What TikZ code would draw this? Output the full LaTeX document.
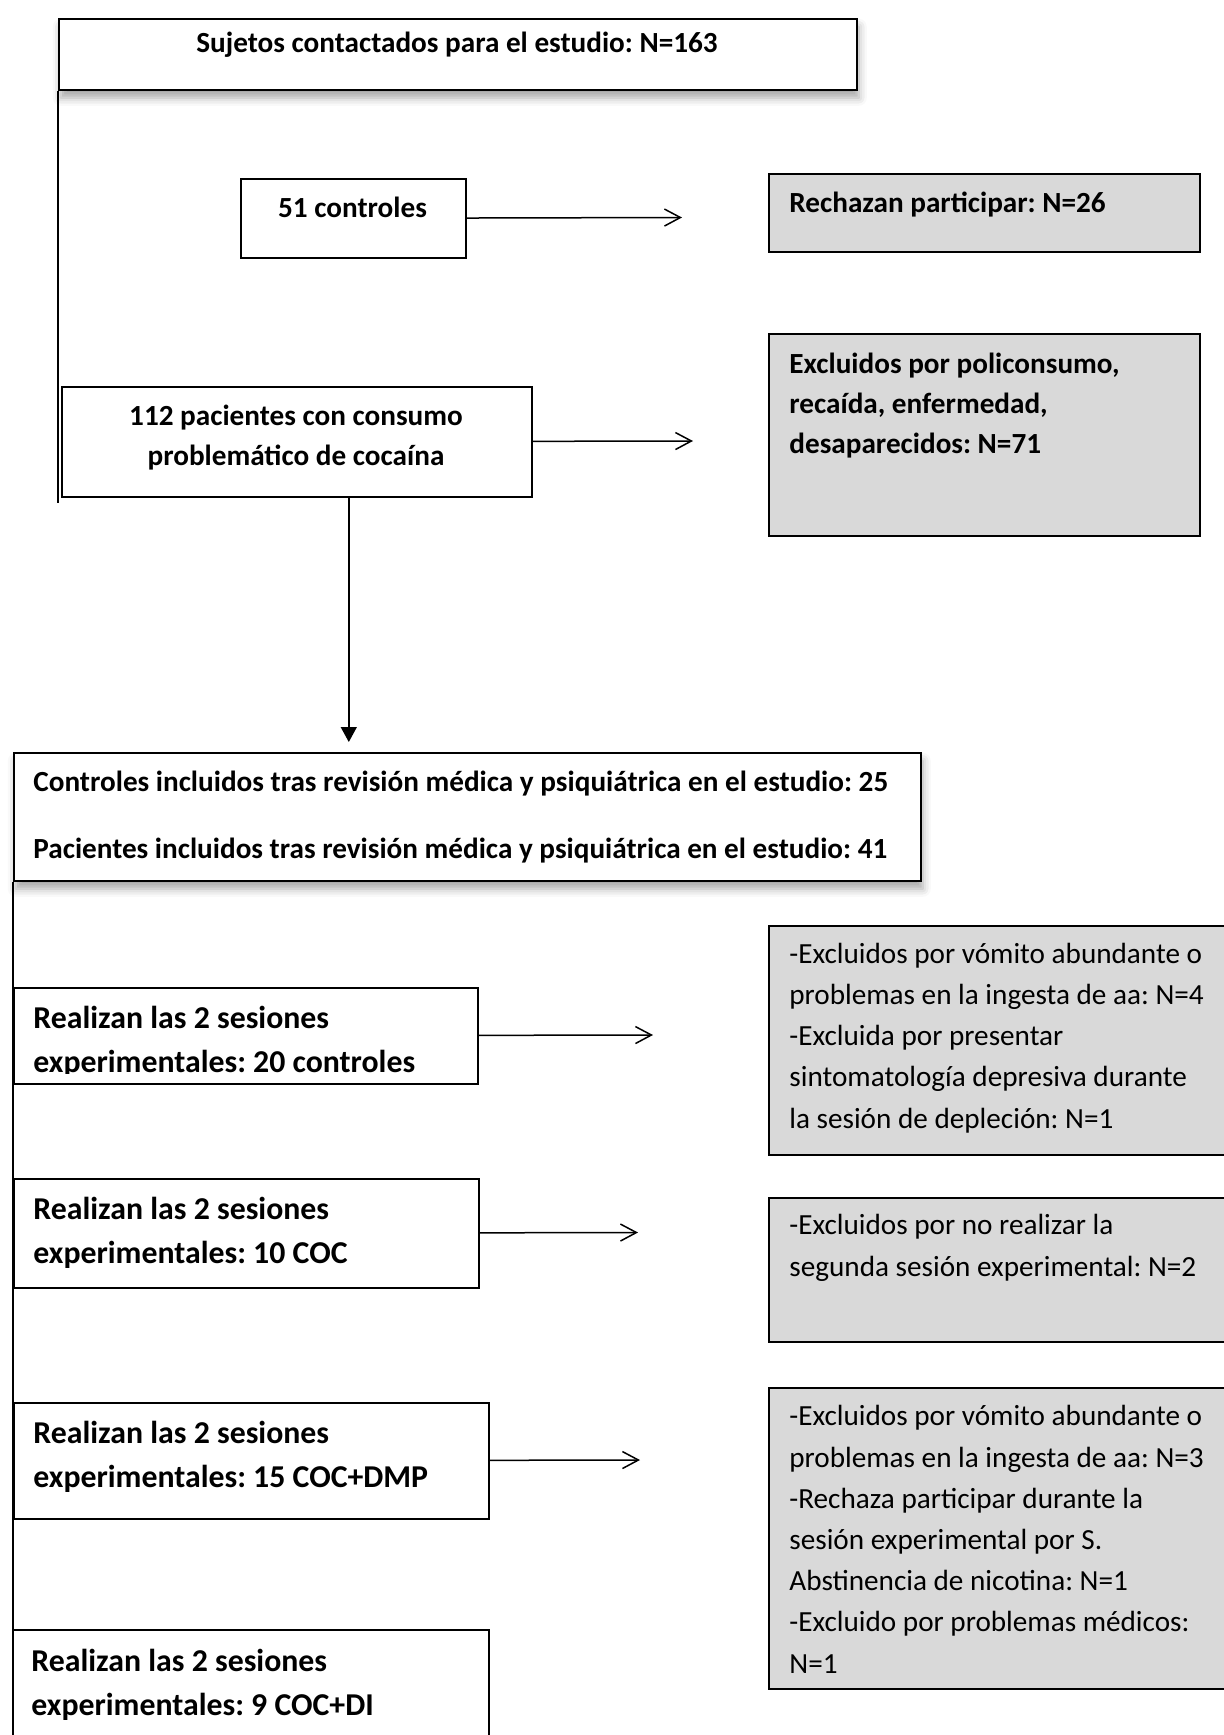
\documentclass[tikz,border=0pt]{standalone}
\usepackage{fontspec}
\setmainfont{Carlito}
\frenchspacing
\usetikzlibrary{arrows.meta,shadows.blur}
\definecolor{boxgray}{HTML}{D9D9D9}
\tikzset{
  box/.style={draw, line width=0.8pt, inner sep=0pt, anchor=north west, fill=white},
  greybox/.style={box, fill=boxgray},
  shadowed/.style={blur shadow={shadow xshift=1pt, shadow yshift=-4pt, shadow blur radius=4pt, shadow opacity=35}},
  bold/.style={font=\fontsize{14.6}{20}\selectfont\bfseries, inner sep=0pt},
  sesion/.style={font=\fontsize{15.9}{22}\selectfont\bfseries, inner sep=0pt, align=left, anchor=base west},
  plain/.style={font=\fontsize{14.6}{20.6}\selectfont, inner sep=0pt, align=left, anchor=base west},
  barb/.style={line width=0.75pt, -{Straight Barb[length=8pt, width=8.5pt]}},
  trunk/.style={line width=0.75pt}
}
\begin{document}
\begin{tikzpicture}[x=0.5pt, y=-0.5pt]
\useasboundingbox (0,0) rectangle (1224,1735);
\clip (0,0) rectangle (1224,1735);

\node[box, shadowed, minimum width=399pt, minimum height=35.5pt] (sujetos) at (58,18) {};
\node[box, minimum width=112.5pt, minimum height=39.5pt] (ctl51) at (240,178) {};
\node[greybox, minimum width=215.5pt, minimum height=39pt] (rech) at (768,173) {};
\node[box, minimum width=235pt, minimum height=55pt] (pac112) at (61,386) {};
\node[greybox, minimum width=215.5pt, minimum height=101pt] (excl) at (768,333) {};
\node[box, shadowed, minimum width=453.5pt, minimum height=64pt] (incl) at (13,752) {};
\node[box, minimum width=232pt, minimum height=48pt] (ses20) at (13,987) {};
\node[box, minimum width=232.5pt, minimum height=54.5pt] (ses10) at (13,1178) {};
\node[box, minimum width=237.5pt, minimum height=58pt] (ses15) at (13,1402) {};
\node[box, minimum width=238pt, minimum height=75pt] (ses9) at (12,1629) {};
\node[greybox, minimum width=240pt, minimum height=114.5pt] (exc1) at (768,925) {};
\node[greybox, minimum width=240pt, minimum height=72pt] (exc2) at (768,1197) {};
\node[greybox, minimum width=240pt, minimum height=150.5pt] (exc3) at (768,1387) {};

\node[bold, anchor=base] (sujetos-t) at (457,52) {Sujetos contactados para el estudio: N=163};
\node[bold, anchor=base] (ctl51-t) at (352.5,217) {51 controles};
\node[bold, anchor=base west] (rech-t) at (789,212) {Rechazan participar: N=26};
\node[bold, align=center, anchor=base] (pac112-t) at (296,465) {112 pacientes con consumo\\problemático de cocaína};
\node[bold, align=left, anchor=base west] (excl-t) at (789,453) {Excluidos por policonsumo,\\recaída, enfermedad,\\desaparecidos: N=71};
\node[bold, align=left, anchor=base west, font=\fontsize{14.6}{33.5}\selectfont\bfseries] (incl-t) at (33,858) {Controles incluidos tras revisión médica y psiquiátrica en el estudio: 25\\Pacientes incluidos tras revisión médica y psiquiátrica en el estudio: 41};
\begin{scope}
\clip (13,987) rectangle (477,1073);
\node[sesion] (ses20-t) at (33,1072) {Realizan las 2 sesiones\\experimentales: 20 controles};
\end{scope}
\node[sesion] (ses10-t) at (33,1263) {Realizan las 2 sesiones\\experimentales: 10 COC};
\node[sesion] (ses15-t) at (33,1487) {Realizan las 2 sesiones\\experimentales: 15 COC+DMP};
\node[sesion] (ses9-t) at (31,1715) {Realizan las 2 sesiones\\experimentales: 9 COC+DI};
\node[plain] (exc1-t) at (789,1128) {-Excluidos por vómito abundante o\\problemas en la ingesta de aa: N=4\\-Excluida por presentar\\sintomatología depresiva durante\\la sesión de depleción: N=1};
\node[plain] (exc2-t) at (789,1276) {-Excluidos por no realizar la\\segunda sesión experimental: N=2};
\node[plain] (exc3-t) at (789,1673) {-Excluidos por vómito abundante o\\problemas en la ingesta de aa: N=3\\-Rechaza participar durante la\\sesión experimental por S.\\Abstinencia de nicotina: N=1\\-Excluido por problemas médicos:\\N=1};

\coordinate (ctl51-e) at (682,217.5);
\coordinate (pac112-e) at (693,441);
\coordinate (ses20-e) at (653,1035);
\coordinate (ses10-e) at (638,1232.5);
\coordinate (ses15-e) at (640,1460);
\coordinate (trunk1) at (58,503);

\draw[barb] (ctl51) -- (ctl51-e);
\draw[barb] (pac112) -- (pac112-e);
\draw[barb] (ses20) -- (ses20-e);
\draw[barb] (ses10) -- (ses10-e);
\draw[barb] (ses15) -- (ses15-e);
\draw[line width=0.75pt, -{Triangle[length=7.5pt, width=8pt]}, shorten >=5pt] ([xshift=26pt]pac112.south) -- ([xshift=26pt]pac112.south |- incl.north);
\draw[trunk] (sujetos.south west) -- (trunk1);
\draw[trunk] (incl.south west) -- (incl.south west |- ses9.north);
\end{tikzpicture}
\end{document}
